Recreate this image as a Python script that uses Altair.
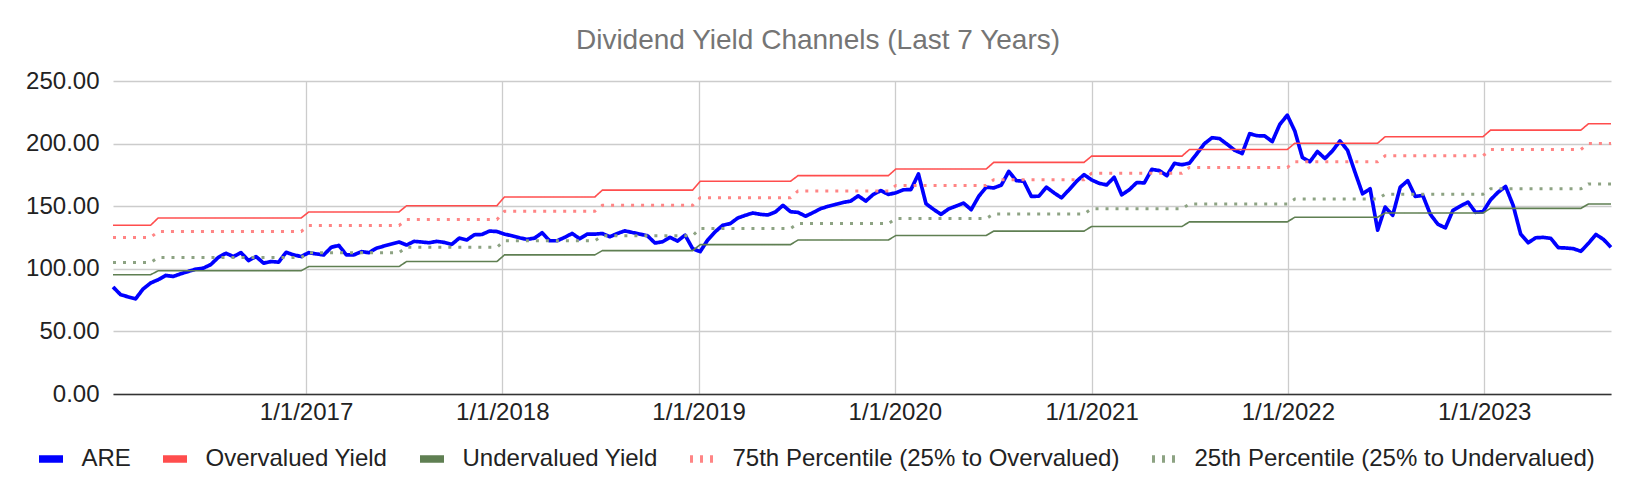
import altair as alt
import numpy as np
import pandas as pd

FONT = "Liberation Sans, Arial, sans-serif"

# biweekly observation dates
start_date = "2016-01-08"
n_points = 200

series_names = [
    "ARE",
    "Overvalued Yield",
    "Undervalued Yield",
    "75th Percentile (25% to Overvalued)",
    "25th Percentile (25% to Undervalued)",
]
series_colors = ["#0000ff", "#ff4d4d", "#5f7f52", "#ff8585", "#8da383"]

are_values = [
    85.5, 79.4, 77.6, 76.0, 83.9, 88.7, 91.3, 94.7, 93.9, 96.0,
    97.9, 99.7, 100.5, 103.4, 109.2, 112.4, 109.8, 112.9, 106.6, 109.8,
    104.5, 105.8, 105.3, 113.2, 111.1, 109.8, 112.9, 111.9, 111.1, 117.2,
    118.7, 111.1, 111.1, 113.7, 112.9, 116.4, 118.2, 119.8, 121.4, 119.0,
    121.9, 121.4, 120.8, 121.9, 121.1, 119.5, 124.5, 123.0, 127.2, 127.4,
    130.1, 129.8,
    127.7, 126.4, 124.8, 123.5, 124.5, 128.8, 122.4, 122.4, 125.1, 128.2,
    124.0, 127.7, 127.7, 128.2, 125.6, 128.2, 130.3, 129.0, 127.7, 126.4,
    120.6, 121.6, 125.1, 122.2, 126.9, 116.1, 113.7, 123.0, 129.6, 134.8,
    136.1, 140.6, 142.7, 144.6, 143.5, 143.0, 145.4, 150.7, 145.6, 145.1,
    142.0, 144.9, 148.0, 149.9, 151.5, 153.0, 154.1, 158.3, 154.1, 159.4,
    162.5, 159.4, 160.7, 163.1, 163.3, 175.7, 152.0, 147.5, 143.5, 147.8,
    150.1, 152.5, 147.2, 157.8, 165.2, 164.6, 166.8, 177.8, 170.4, 169.9,
    157.8, 158.0, 165.2, 160.7, 156.7, 163.1, 169.9, 175.2, 171.0, 168.3,
    167.0, 173.1, 159.1, 163.1, 168.9, 168.6, 179.4, 178.4, 174.4, 184.2,
    183.1, 184.4, 192.1, 200.0, 204.7, 204.0, 199.5, 194.7, 192.1, 207.9,
    206.3,
    206.1, 201.6, 215.3, 222.7, 210.0, 188.9, 185.5, 193.7, 188.1, 194.2,
    202.1, 194.7, 177.0, 159.9, 163.9, 130.9, 149.3, 142.7, 165.2, 170.4,
    157.8, 158.6, 143.5, 135.6, 132.7, 146.7, 150.1, 153.3, 145.1, 145.6,
    155.1, 161.2, 165.7, 150.7, 127.7, 120.8, 124.8, 125.1, 124.3, 116.9,
    116.6, 116.1, 114.0, 120.3, 127.4, 123.5, 117.2,
]

# channel levels change on these dates (value holds until next change)
step_change_dates = [
    "2016-01-08", "2016-04-01", "2017-01-01", "2017-07-01", "2018-01-01",
    "2018-07-01", "2019-01-01", "2019-07-01", "2020-01-01", "2020-07-01",
    "2021-01-01", "2021-07-01", "2022-01-01", "2022-07-01", "2023-01-01",
    "2023-07-01",
]
overvalued = [134.8, 140.6, 145.4, 150.4, 157.3, 162.8, 169.9, 174.4,
              179.7, 185.0, 190.0, 195.3, 200.3, 205.5, 210.8, 215.8]
pct75 = [125.1, 129.8, 134.6, 139.3, 145.9, 150.7, 156.7, 162.2,
         166.5, 171.2, 176.3, 181.0, 185.5, 190.2, 195.3, 200.0]
pct25 = [105.0, 109.0, 112.9, 117.2, 122.4, 126.4, 132.2, 136.1,
         140.1, 143.8, 148.0, 151.7, 155.7, 159.6, 163.9, 167.8]
undervalued = [95.3, 98.4, 101.8, 105.8, 111.1, 114.5, 119.3, 123.0,
               126.6, 130.1, 133.8, 137.5, 141.2, 144.6, 148.3, 151.7]

y_ticks = [0, 50, 100, 150, 200, 250]
x_tick_years = [2017, 2018, 2019, 2020, 2021, 2022, 2023]

# ---- build table ----
dates = pd.date_range(start_date, periods=n_points, freq="14D")
change = pd.to_datetime(step_change_dates)
period = np.searchsorted(change.values, dates.values, side="right") - 1
date_str = dates.strftime("%Y-%m-%d")

frames = [pd.DataFrame({"date": date_str, "series": series_names[0], "value": are_values})]
for name, levels in zip(series_names[1:], [overvalued, undervalued, pct75, pct25]):
    frames.append(pd.DataFrame({"date": date_str, "series": name,
                                "value": [levels[p] for p in period]}))
df = pd.concat(frames, ignore_index=True)

legend = alt.Legend(
    title=None, orient="none", legendX=-78, legendY=362, direction="horizontal",
    columns=5, symbolType="stroke", symbolSize=576, symbolStrokeWidth=7.5,
    labelFontSize=24, labelColor="#222222", labelFont=FONT,
    columnPadding=17, labelOffset=14.5, labelLimit=0,
)

x_enc = alt.X("date:T", title=None,
              scale=alt.Scale(type="utc", nice=False, padding=0),
              axis=alt.Axis(values=[alt.DateTime(year=y, month=1, date=1, utc=True) for y in x_tick_years],
                            format="%-m/%-d/%Y", labelFontSize=24, labelColor="#222222",
                            labelFont=FONT, grid=True, gridColor="#cccccc", gridWidth=1.3,
                            domainColor="#333333", domainWidth=1.5, ticks=False,
                            labelPadding=6, labelOverlap=False, labelFlush=False))
y_enc = alt.Y("value:Q", title=None,
              scale=alt.Scale(domain=[0, 250], nice=False),
              axis=alt.Axis(values=y_ticks, format=".2f", labelFontSize=24,
                            labelColor="#222222", labelFont=FONT, grid=True,
                            gridColor="#cccccc", gridWidth=1.3, domain=False,
                            ticks=False, labelPadding=14))
color_enc = alt.Color("series:N", scale=alt.Scale(domain=series_names, range=series_colors),
                      legend=legend)
dash_enc = alt.StrokeDash("series:N",
                          scale=alt.Scale(domain=series_names,
                                          range=[[1, 0], [1, 0], [1, 0], [3, 7], [3, 7]]),
                          legend=legend)

base = alt.Chart(df).encode(x=x_enc, y=y_enc, color=color_enc, strokeDash=dash_enc, order="date:T")

are_layer = base.mark_line(strokeWidth=3.7, strokeJoin="round").transform_filter(
    alt.datum.series == series_names[0])
solid_layer = base.mark_line(strokeWidth=1.6).transform_filter(
    alt.FieldOneOfPredicate(field="series", oneOf=series_names[1:3]))
dotted_layer = base.mark_line(strokeWidth=3).transform_filter(
    alt.FieldOneOfPredicate(field="series", oneOf=series_names[3:5]))

chart = alt.layer(are_layer, solid_layer, dotted_layer).properties(
    width=1498, height=313,
    title=alt.TitleParams("Dividend Yield Channels (Last 7 Years)", fontSize=28,
                          color="#757575", font=FONT, fontWeight="normal",
                          anchor="middle", dx=-44, offset=14),
    autosize=alt.AutoSizeParams(type="none"),
    padding={"left": 105, "top": 73, "right": 17, "bottom": 92},
).configure_view(stroke=None)

chart.save("out.html", embed_options={"renderer": "svg", "actions": False})
